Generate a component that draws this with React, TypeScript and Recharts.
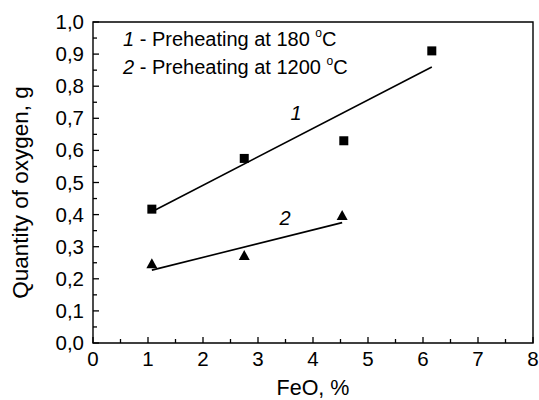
import React from 'react';
import { ComposedChart, XAxis, YAxis, Scatter, Line, ReferenceArea } from 'recharts';

// ---- data ----
const squarePoints = [
  { x: 1.07, y: 0.417 },
  { x: 2.75, y: 0.575 },
  { x: 4.56, y: 0.63 },
  { x: 6.16, y: 0.91 },
];
const trianglePoints = [
  { x: 1.07, y: 0.245 },
  { x: 2.75, y: 0.271 },
  { x: 4.53, y: 0.396 },
];
const fitLine1 = [
  { x: 1.07, y: 0.409 },
  { x: 6.16, y: 0.86 },
];
const fitLine2 = [
  { x: 1.07, y: 0.227 },
  { x: 4.53, y: 0.375 },
];
const curveLabels = [
  { x: 3.69, y: 0.716, text: '1' },
  { x: 3.49, y: 0.388, text: '2' },
];
const xTicks = [0, 0.5, 1, 1.5, 2, 2.5, 3, 3.5, 4, 4.5, 5, 5.5, 6, 6.5, 7, 7.5, 8];
const yTicks = [0, 0.05, 0.1, 0.15, 0.2, 0.25, 0.3, 0.35, 0.4, 0.45, 0.5, 0.55, 0.6, 0.65, 0.7, 0.75, 0.8, 0.85, 0.9, 0.95, 1];
const legendItems = [
  { num: '1', text: ' - Preheating at 180 ' },
  { num: '2', text: ' - Preheating at 1200 ' },
];
const xTitle = 'FeO, %';
const yTitle = 'Quantity of oxygen, g';

const FONT = '"Liberation Sans", Arial, Helvetica, sans-serif';
const TICK_FS = 20.5;

const isMajor = (v: number, step: number) => Math.abs(v / step - Math.round(v / step)) < 1e-6;

const XTick = (props: any) => {
  const { x, y, payload } = props;
  const v = payload.value as number;
  const major = isMajor(v, 1);
  return (
    <g>
      <line x1={x} x2={x} y1={y} y2={y - (major ? 6 : 4)} stroke="#000" strokeWidth={1.3} />
      {major && (
        <text x={x} y={y + 23} textAnchor="middle" fontSize={TICK_FS} fontFamily={FONT} fill="#000">
          {String(v)}
        </text>
      )}
    </g>
  );
};

const YTick = (props: any) => {
  const { x, y, payload } = props;
  const v = payload.value as number;
  const major = isMajor(v, 0.1);
  return (
    <g>
      <line x1={x} x2={x + (major ? 6 : 4)} y1={y} y2={y} stroke="#000" strokeWidth={1.3} />
      {major && (
        <text x={x - 9} y={y + 7} textAnchor="end" fontSize={TICK_FS} fontFamily={FONT} fill="#000">
          {v.toFixed(1).replace('.', ',')}
        </text>
      )}
    </g>
  );
};

const SquareShape = (p: any) => <rect x={p.cx - 4.5} y={p.cy - 4.5} width={9} height={9} fill="#000" />;
const TriangleShape = (p: any) => (
  <polygon
    points={`${p.cx},${p.cy - 6} ${p.cx - 5.5},${p.cy + 4} ${p.cx + 5.5},${p.cy + 4}`}
    fill="#000"
  />
);
const CurveLabelShape = (p: any) => (
  <text x={p.cx} y={p.cy + 7} textAnchor="middle" fontSize={20} fontStyle="italic" fontFamily={FONT} fill="#000">
    {p.payload.text}
  </text>
);

const LegendBox = (props: any) => {
  const vb = props.viewBox;
  const x0 = vb.x + 30;
  const y0 = vb.y + 23.5;
  return (
    <g fontFamily={FONT} fontSize={20} fill="#000">
      {legendItems.map((it, i) => (
        <text key={i} x={x0} y={y0 + i * 28}>
          <tspan fontStyle="italic">{it.num}</tspan>
          <tspan>{it.text}</tspan>
          <tspan fontSize={12} dy={-9}>o</tspan>
          <tspan dy={9}>C</tspan>
        </text>
      ))}
    </g>
  );
};

const XTitle = (props: any) => {
  const vb = props.viewBox;
  return (
    <text x={vb.x + vb.width / 2} y={vb.y + 52} textAnchor="middle" fontSize={21.5} fontFamily={FONT} fill="#000">
      {xTitle}
    </text>
  );
};

const YTitle = (props: any) => {
  const vb = props.viewBox;
  const cx = vb.x + 28;
  const cy = vb.y + vb.height / 2 + 10;
  return (
    <text
      x={cx}
      y={cy}
      transform={`rotate(-90, ${cx}, ${cy})`}
      textAnchor="middle"
      fontSize={22.5}
      fontFamily={FONT}
      fill="#000"
    >
      {yTitle}
    </text>
  );
};

export default function App() {
  return (
    <div style={{ position: 'absolute', left: 0, top: 0, background: '#fff' }}>
      <ComposedChart width={539} height={400} margin={{ top: 22, right: 6, bottom: 0, left: 0 }}>
        <XAxis
          dataKey="x"
          type="number"
          domain={[0, 8]}
          ticks={xTicks}
          interval={0}
          height={57}
          axisLine={false}
          tickLine={false}
          tickSize={0}
          tickMargin={0}
          tick={<XTick />}
          label={<XTitle />}
        />
        <YAxis
          dataKey="y"
          type="number"
          domain={[0, 1]}
          ticks={yTicks}
          interval={0}
          width={93}
          axisLine={false}
          tickLine={false}
          tickSize={0}
          tickMargin={0}
          tick={<YTick />}
          label={<YTitle />}
        />
        <ReferenceArea
          x1={0}
          x2={8}
          y1={0}
          y2={1}
          fill="none"
          fillOpacity={0}
          stroke="#000"
          strokeWidth={1.4}
          label={<LegendBox />}
        />
        <Line data={fitLine1} dataKey="y" type="linear" stroke="#000" strokeWidth={1.6} dot={false} activeDot={false} isAnimationActive={false} />
        <Line data={fitLine2} dataKey="y" type="linear" stroke="#000" strokeWidth={1.6} dot={false} activeDot={false} isAnimationActive={false} />
        <Scatter data={squarePoints} dataKey="y" shape={<SquareShape />} isAnimationActive={false} />
        <Scatter data={trianglePoints} dataKey="y" shape={<TriangleShape />} isAnimationActive={false} />
        <Scatter data={curveLabels} dataKey="y" shape={<CurveLabelShape />} isAnimationActive={false} />
      </ComposedChart>
    </div>
  );
}
